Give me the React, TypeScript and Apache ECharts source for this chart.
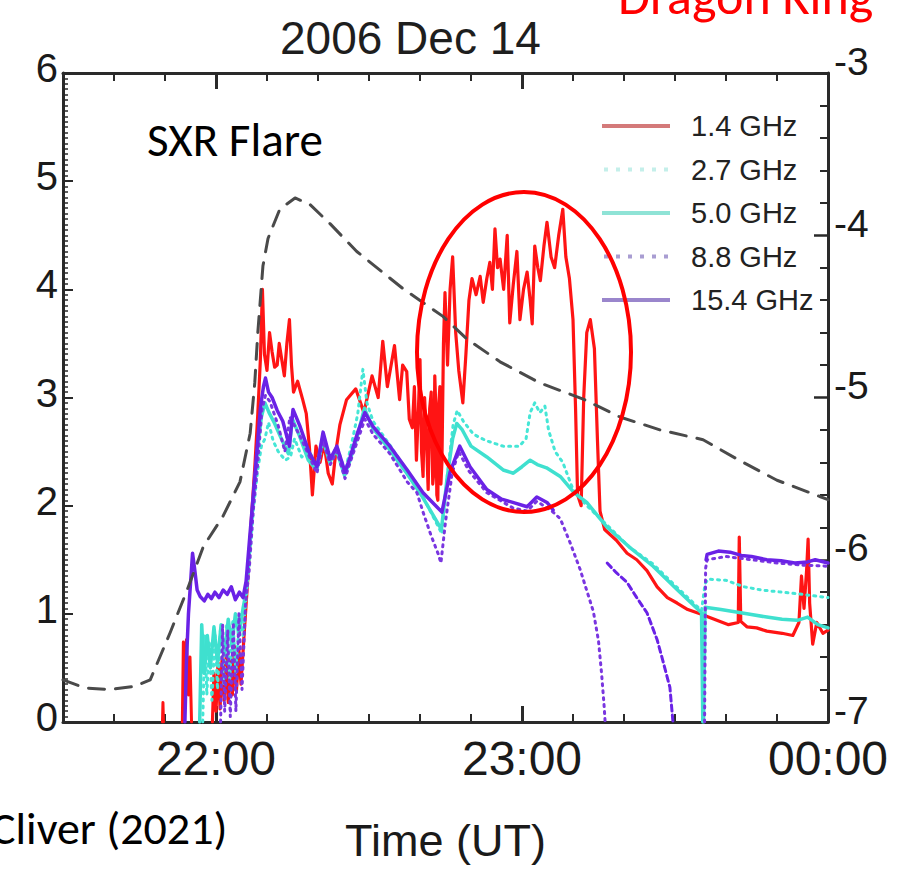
import React, { useEffect, useRef } from "react";
import * as echarts from "echarts";

// time axis: minutes after 21:00 UT (30 = 21:30, 180 = 00:00)
const hourTicks = [60, 120, 180];
const hourLabels = ["22:00", "23:00", "00:00"];

// SXR flux, log10 (right axis)
const sxrFlux: [number, number][] = [[30,-6.74],[34.3,-6.79],[39.2,-6.8],[44.1,-6.78],[47.1,-6.74],[51,-6.45],[54.3,-6.19],[57.5,-5.92],[61.4,-5.73],[64.7,-5.52],[66.7,-5.22],[67.6,-4.91],[68.2,-4.6],[69.2,-4.19],[70.2,-4.02],[72.5,-3.84],[75.5,-3.77],[78.4,-3.81],[82.4,-3.93],[87.6,-4.1],[96.7,-4.33],[104.5,-4.5],[109.2,-4.64],[115.7,-4.78],[123.5,-4.91],[132,-5.01],[139.2,-5.12],[147.1,-5.2],[155.5,-5.26],[162.2,-5.38],[170,-5.51],[178.4,-5.61],[180,-5.63]];

// 1.4 GHz
const ghz14A: [number, number][] = [[49.5,0],[49.6,0.18],[49.7,0]];
const ghz14B: [number, number][] = [[53.4,0],[53.6,0.74],[53.9,0.3],[54.2,0.76],[54.6,0.25],[54.9,0.6],[55.2,0]];
const ghz14C: [number, number][] = [[59.3,0],[59.6,0.45],[60,0.1],[60.4,0.55],[60.8,0.12],[61.2,0.6],[61.6,0.2],[62,0.62],[62.4,0.18],[62.8,0.58],[63.2,0.25],[63.6,0.7],[64,0.28],[64.5,0.66],[64.9,0.35],[65.5,0.8],[66.2,1.3],[66.9,1.85],[67.6,2.35],[68.2,2.85],[68.7,3.35],[69.1,4],[69.5,3.4],[70,3.25],[70.5,3.6],[71,3.42],[71.5,3.28],[72,3.3],[72.4,3.5],[72.9,3.35],[73.4,3.2],[73.9,3.5],[74.4,3.72],[74.8,3.3],[75.2,3.05],[76,3.15],[77,2.98],[77.7,2.85],[78.3,2.55],[78.9,2.1],[79.6,2.55],[80.4,2.4],[81.2,2.58],[82,2.3],[82.8,2.2],[83.5,2.5],[84.3,2.75],[85.6,2.98],[87.4,3.08],[89,2.86],[90.6,3.2],[91.8,3],[92.7,3.52],[93.6,3.1],[95,3.48],[96,2.98],[96.6,3.3],[97.4,3.24],[97.9,2.8],[98.5,2.72],[98.9,3.1],[99.3,2.42],[99.7,2.9],[100,3.35],[100.3,2.5],[100.6,2.27],[100.9,3.0],[101.2,2.7],[101.6,2.15],[101.9,2.9],[102.2,3.05],[102.5,2.2],[102.7,2.3],[102.9,3.2],[103.1,2.9],[103.3,2.1],[103.5,2.05],[103.7,2.95],[103.9,3.1],[104.1,2.2],[104.3,2.4],[104.6,3.5],[104.9,3.97],[105.4,3.3],[105.9,4],[106.4,4.3],[107,3.6],[107.6,3.25],[108.4,2.95],[109,3.4],[109.6,3.9],[110.2,4.1],[111,3.95],[111.8,4.12],[112.4,3.88],[113.1,4.1],[113.7,4.25],[114.2,4],[114.7,4.56],[115.2,4.2],[115.7,4.28],[116.4,4],[117.1,4.5],[117.6,3.69],[118.3,4.05],[119,4.35],[119.6,3.72],[120.3,4],[121,4.16],[121.6,3.9],[122,3.68],[122.5,4.4],[123.1,4.2],[123.6,4.08],[124.3,4.4],[124.9,4.62],[125.7,4.3],[126.4,4.2],[127.2,4.5],[128,4.74],[128.6,4.3],[129.3,4.1],[130,3.72],[130.5,2.9],[130.9,2.1],[131.6,2],[132.1,3],[132.7,3.6],[133.4,3.72],[134.2,3.45],[134.8,2.6],[135.3,1.95],[136.2,1.78],[138.5,1.68],[140.6,1.56],[142.5,1.5],[144.5,1.4],[146.5,1.25],[148.5,1.15],[150.4,1.1],[152.5,1.04],[154.9,1],[158.2,0.94],[160.5,0.9],[162.4,0.92],[162.6,1.71],[162.9,0.93],[164.1,0.88],[166,0.87],[168,0.84],[171,0.82],[173.1,0.8],[174.3,0.92],[174.8,1.35],[175.3,1.05],[175.8,1.4],[176.1,1.69],[176.4,1.1],[177,0.72],[177.8,0.92],[179,0.82],[180,0.85]];

// 2.7 GHz
const ghz27: [number, number][] = [[57.4,0],[57.8,0.8],[58.2,0.25],[58.7,0.75],[59.2,0.2],[59.8,0.82],[60.3,0.3],[60.9,0.88],[61.5,0.35],[62.1,0.9],[62.7,0.4],[63.3,0.95],[63.9,0.45],[64.6,1],[65.3,0.8],[65.9,1.15],[66.5,1.45],[67.3,1.95],[68.1,2.3],[68.9,2.55],[69.6,2.62],[70.3,2.77],[71.2,2.6],[72.2,2.5],[73.6,2.42],[74.6,2.45],[75.4,2.62],[76.8,2.45],[78.4,2.5],[79.8,2.32],[81,2.62],[82.4,2.42],[83.7,2.55],[85.3,2.32],[86.5,2.55],[87.8,2.85],[88.8,3.26],[89.6,2.95],[90.8,2.78],[94.1,2.56],[97.5,2.32],[100.6,2.08],[104.3,1.74],[105.4,2.3],[106.5,2.75],[107.3,2.88],[108.5,2.78],[110.5,2.66],[113,2.6],[116.3,2.55],[119.5,2.55],[120.8,2.62],[121.6,2.86],[122.5,2.95],[123.5,2.86],[124.5,2.92],[125.2,2.7],[126.5,2.5],[128,2.4],[130,2.15],[132.7,2],[136.7,1.82],[141,1.62],[145.7,1.46],[150.5,1.24],[155.2,1.03],[155.9,1.28],[156.5,1.32],[160,1.31],[163.5,1.25],[167,1.22],[171,1.2],[175,1.18],[180,1.15]];

// 5.0 GHz
const ghz50: [number, number][] = [[56.8,0],[57.2,0.9],[57.7,0.45],[58.3,0.8],[58.9,0.5],[59.6,0.88],[60.3,0.55],[61,0.9],[61.7,0.62],[62.4,0.95],[63.1,0.7],[63.8,1],[64.5,0.8],[65.3,1.05],[65.9,1.2],[66.5,1.55],[67.3,2.05],[68.1,2.5],[68.9,2.82],[69.6,2.95],[70.4,2.86],[71.5,2.76],[72.8,2.62],[74.2,2.48],[75,2.8],[76.4,2.64],[78.1,2.42],[79.7,2.33],[80.9,2.62],[82.3,2.4],[83.6,2.52],[85.2,2.28],[86.3,2.42],[87.8,2.66],[89.1,2.9],[90.7,2.72],[94,2.52],[97.4,2.3],[100.5,2.08],[104.2,1.78],[105.3,2.25],[106.4,2.62],[107.2,2.76],[108.3,2.7],[110,2.55],[113.1,2.45],[116.3,2.33],[118.3,2.3],[120,2.36],[121.6,2.42],[123,2.38],[124.8,2.35],[127.5,2.27],[130.2,2.12],[132.7,2.03],[136.7,1.8],[141,1.62],[145.7,1.44],[150.5,1.22],[155.2,1.01],[155.45,0],[155.6,0],[155.9,1.06],[159,1.04],[164.1,1],[168,0.97],[171,0.95],[174,0.94],[176,0.97],[178,0.9],[180,0.87]];

// 8.8 GHz
const ghz88A: [number, number][] = [[60.9,0],[61.3,0.9],[61.7,0.1],[62.3,0.85],[62.8,0.05],[63.4,0.92],[63.9,0.1],[64.5,1],[65.1,0.3],[65.8,1.1],[66.5,1.4],[67.3,1.95],[68.2,2.4],[69,2.88],[69.7,3.02],[70.6,2.96],[72.2,2.74],[73.5,2.5],[74.5,2.82],[76.5,2.64],[79.8,2.3],[81,2.6],[82.4,2.38],[83.7,2.5],[85.3,2.25],[86.3,2.4],[89.2,2.8],[90.8,2.66],[94.1,2.48],[97.5,2.22],[99.4,2.12],[100.6,1.94],[102.2,1.72],[103.6,1.55],[104.1,1.47],[105,1.85],[106.3,2.3],[107.6,2.5],[109.6,2.32],[113.1,2.12],[118.2,1.98],[121,1.95],[122.9,2.04],[124.9,1.98],[126.1,1.94],[127.5,1.88],[129.5,1.65],[131.4,1.41],[132.8,1.2],[134,1.02],[135,0.75],[135.6,0.45],[136.1,0.15],[136.3,0]];
const ghz88B: [number, number][] = [[155.8,0],[155.9,0.7],[156,1.42],[156.3,1.5],[160,1.53],[165,1.5],[170,1.47],[175,1.45],[180,1.44]];

// 15.4 GHz
const ghz154A: [number, number][] = [[53.9,0],[54.2,0.55],[54.6,1],[55,1.28],[55.4,1.56],[55.8,1.42],[56.3,1.22],[56.9,1.16],[57.7,1.12],[58.4,1.18],[59.1,1.14],[59.8,1.2],[60.6,1.15],[61.4,1.22],[62.2,1.18],[63,1.25],[63.8,1.13],[64.6,1.2],[65.3,1.15],[65.9,1.3],[66.6,1.7],[67.4,2.15],[68.1,2.55],[68.7,2.9],[69.3,3.1],[69.7,3.18],[70.3,3.05],[71,3],[72,2.88],[73.1,2.78],[74.4,2.55],[75.1,2.89],[76.5,2.73],[78.2,2.5],[79.8,2.36],[81,2.68],[82.4,2.43],[83.7,2.55],[85.3,2.31],[86.3,2.45],[87.8,2.68],[89.2,2.86],[90.8,2.73],[94.1,2.55],[97.5,2.33],[100.6,2.12],[104.3,1.94],[105.9,2.31],[107.8,2.55],[109.8,2.36],[113.1,2.15],[116,2.06],[118.2,2.03],[121,1.99],[122.9,2.08],[124.9,2.03],[126.1,1.96]];
const ghz154B: [number, number][] = [[136.7,1.47],[138.5,1.38],[140.6,1.29],[142.5,1.15],[144.5,1.01],[146.5,0.76],[147.6,0.57],[149,0.32],[149.6,0]];
const ghz154C: [number, number][] = [[156.1,1.5],[156.3,1.55],[158.5,1.58],[160.8,1.57],[163,1.54],[165,1.53],[168,1.5],[170.8,1.49],[173.5,1.47],[176,1.48],[177.5,1.5],[180,1.47]];

const legendNames = ["1.4 GHz", "2.7 GHz", "5.0 GHz", "8.8 GHz", "15.4 GHz"];
const legendPale = ["#d47a7a", "#c4efea", "#8fe3d6", "#a99dd2", "#9a86cc"];

const SANS = "'Liberation Sans', Arial, sans-serif";
const CAL = "Carlito, 'Open Sans', 'Noto Sans', sans-serif";

const RED = "#ff1414";
const CY27 = "#45e6d6";
const CY50 = "#3fe0cf";
const PU88 = "#7a36e0";
const PU154 = "#6a22e6";

const SOLID_ICON = "path://M0,0h68v4h-68z";
const DOT_ICON = "path://M0,0h4v4h-4z M12,0h4v4h-4z M24,0h4v4h-4z M36,0h4v4h-4z M48,0h4v4h-4z M60,0h4v4h-4z";

function ln(name: string, data: any, color: string, width: number, type: any, z = 2, yAxisIndex = 0) {
  return {
    type: "line", name, data, symbol: "none", showSymbol: false, z,
    xAxisIndex: 0, yAxisIndex,
    lineStyle: { color, width, type, cap: "round", join: "round" },
    itemStyle: { color },
    emphasis: { disabled: true },
    silent: true,
  };
}

function baseX(position: "top" | "bottom", extra: any) {
  return {
    type: "value", position, min: 30, max: 180, gridIndex: 0,
    splitLine: { show: false },
    axisLine: { show: true, lineStyle: { color: "#2a2a2a", width: 3 } },
    axisLabel: { show: false },
    ...extra,
  };
}

export default function App() {
  const ref = useRef<HTMLDivElement>(null);
  useEffect(() => {
    if (!ref.current) return;
    const chart = echarts.init(ref.current, undefined, { renderer: "svg" });
    const labelFor = (v: number) => {
      const i = hourTicks.indexOf(v);
      return i >= 0 ? hourLabels[i] : "";
    };
    chart.setOption({
      animation: false,
      backgroundColor: "#ffffff",
      grid: { left: 63, right: 84, top: 73, bottom: 153, containLabel: false },
      title: {
        text: "2006 Dec 14", left: 275, top: 10,
        textStyle: { fontFamily: SANS, fontSize: 46, fontWeight: "normal", color: "#1e1e1e" },
      },
      legend: {
        data: legendNames.map((n, i) => ({
          name: n,
          icon: i === 1 || i === 3 ? DOT_ICON : SOLID_ICON,
          itemStyle: { color: legendPale[i] },
        })),
        orient: "vertical", left: 602, top: 111, padding: 0,
        itemWidth: 68, itemHeight: 4, itemGap: 13.5,
        selectedMode: false,
        textStyle: { fontFamily: SANS, fontSize: 29, lineHeight: 30, color: "#222", padding: [0, 0, 0, 16] },
      },
      xAxis: [
        baseX("bottom", {
          interval: 10,
          axisTick: { show: true, inside: true, length: 8, lineStyle: { color: "#2a2a2a", width: 2 } },
          axisLabel: { show: true, formatter: labelFor, margin: 16, lineHeight: 40, fontFamily: SANS, fontSize: 48, color: "#1a1a1a" },
          name: "Time (UT)", nameLocation: "middle", nameGap: 96,
          nameTextStyle: { fontFamily: SANS, fontSize: 45, color: "#1a1a1a" },
        }),
        baseX("bottom", {
          axisLine: { show: false },
          axisTick: { show: true, inside: true, length: 16, customValues: hourTicks, lineStyle: { color: "#2a2a2a", width: 3 } },
        }),
        baseX("top", {
          interval: 10,
          axisTick: { show: true, inside: true, length: 8, lineStyle: { color: "#2a2a2a", width: 2 } },
        }),
        baseX("top", {
          axisLine: { show: false },
          axisTick: { show: true, inside: true, length: 16, customValues: hourTicks, lineStyle: { color: "#2a2a2a", width: 3 } },
        }),
      ],
      yAxis: [
        {
          type: "value", position: "left", min: 0, max: 6, interval: 1,
          splitLine: { show: false },
          axisLine: { show: true, lineStyle: { color: "#2a2a2a", width: 3 } },
          axisTick: { show: true, inside: true, length: 10, lineStyle: { color: "#2a2a2a", width: 2 } },
          minorTick: { show: true, splitNumber: 20, length: 5, lineStyle: { color: "#2a2a2a", width: 1.5 } },
          axisLabel: { margin: 5, fontFamily: SANS, fontSize: 40, color: "#1a1a1a", verticalAlign: "bottom", lineHeight: 10 },
        },
        {
          type: "value", position: "right", min: -7, max: -3, interval: 1,
          splitLine: { show: false },
          axisLine: { show: true, lineStyle: { color: "#2a2a2a", width: 3 } },
          axisTick: { show: true, inside: true, length: 14, lineStyle: { color: "#2a2a2a", width: 2.5 } },
          minorTick: { show: true, splitNumber: 5, length: 8, lineStyle: { color: "#2a2a2a", width: 2 } },
          axisLabel: { margin: 6, fontFamily: SANS, fontSize: 39, color: "#1a1a1a", verticalAlign: "bottom", lineHeight: 24, formatter: (v: number) => String(v) },
        },
      ],
      series: [
        ln(legendNames[0], ghz14A, RED, 3, "solid", 2),
        ln(legendNames[0], ghz14B, RED, 3, "solid", 2),
        ln(legendNames[0], ghz14C, RED, 3.2, "solid", 2),
        ln(legendNames[1], ghz27, CY27, 3, [2, 5], 3),
        ln(legendNames[2], ghz50, CY50, 3.5, "solid", 3),
        ln(legendNames[3], ghz88A, PU88, 3, [2, 5], 4),
        ln(legendNames[3], ghz88B, PU88, 3, [2, 5], 4),
        ln(legendNames[4], ghz154A, PU154, 3.5, "solid", 4),
        ln(legendNames[4], ghz154B, PU154, 3, [6, 4], 4),
        ln(legendNames[4], ghz154C, PU154, 3.5, "solid", 4),
        ln("SXR", sxrFlux, "#4a4a4a", 3, [16, 11], 5, 1),
      ],
      graphic: [
        { type: "text", left: 618, top: -30, z: 10, style: { text: "Dragon King", fill: "#ff0000", fontFamily: CAL, fontSize: 52 } },
        { type: "text", left: 147, top: 116, z: 10, style: { text: "SXR Flare", fill: "#000000", fontFamily: CAL, fontSize: 47 } },
        { type: "text", left: -9, top: 805, z: 10, style: { text: "Cliver (2021)", fill: "#000000", fontFamily: CAL, fontSize: 46 } },
        { type: "ellipse", z: 10, shape: { cx: 524, cy: 352, rx: 107, ry: 160 }, style: { fill: "none", stroke: "#ff0000", lineWidth: 4 } },
      ],
    });
    return () => chart.dispose();
  }, []);
  return <div ref={ref} style={{ position: "fixed", left: 0, top: 0, width: 912, height: 875, background: "#fff" }} />;
}
